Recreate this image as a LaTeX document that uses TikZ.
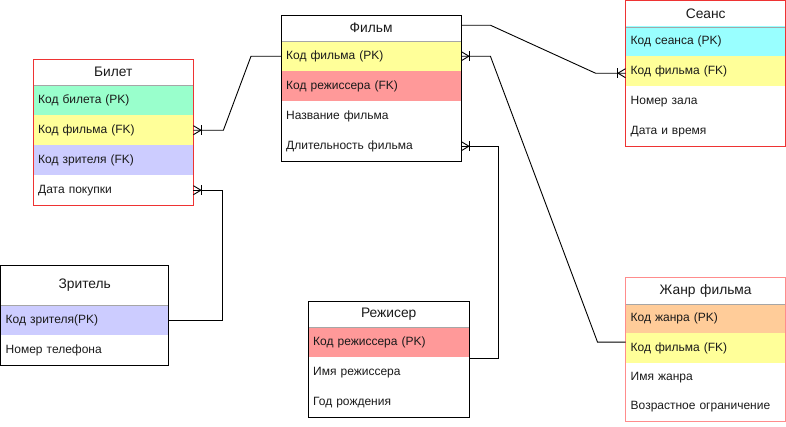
\documentclass[tikz,border=0pt]{standalone}
\usepackage{fontspec}
\setmainfont{Liberation Sans}
\definecolor{pkgreen}{HTML}{99FFCC}
\definecolor{keyyellow}{HTML}{FFFF99}
\definecolor{keylav}{HTML}{CCCCFF}
\definecolor{keysalmon}{HTML}{FF9999}
\definecolor{keycyan}{HTML}{99FFFF}
\definecolor{keyorange}{HTML}{FFCC99}
\definecolor{tabred}{HTML}{EE3333}
\definecolor{tabpink}{HTML}{FF8C8C}
\definecolor{txt}{HTML}{1A1A1A}
\begin{document}
\begin{tikzpicture}[x=1pt,y=-1pt,
  hdr/.style={anchor=north west, inner xsep=5pt, inner ysep=0pt, align=center,
    text=txt, font=\fontsize{13.8}{16}\selectfont},
  row/.style={anchor=north west, minimum height=30pt, inner xsep=5pt, inner ysep=0pt,
    align=left, text=txt, font=\fontsize{12}{14}\selectfont},
  w160/.style={minimum width=160pt, text width=150pt},
  w180/.style={minimum width=180pt, text width=170pt},
  w168/.style={minimum width=168pt, text width=158pt},
  w161/.style={minimum width=161pt, text width=151pt},
  border/.style={draw=black, line width=0.9pt},
  redborder/.style={draw=tabred, line width=0.9pt},
  pinkborder/.style={draw=tabpink, line width=0.9pt},
  sep/.style={draw=black!35, line width=0.6pt},
  conn/.style={draw=black, line width=0.9pt},
  crow/.pic={
    \draw[line width=0.9pt] (0,-4.5) -- (7.5,0) -- (0,4.5);
    \draw[line width=0.9pt] (8.5,-5) -- (8.5,5);
  }]
\useasboundingbox (0,0) rectangle (786,426);

% Билет
\node[hdr, w160, minimum height=26pt] (bh) at (33,59) {Билет};
\node[row, w160, fill=pkgreen] (b1) at (33,85) {Код билета (PK)};
\node[row, w160, fill=keyyellow] (b2) at (33,115) {Код фильма (FK)};
\node[row, w160, fill=keylav] (b3) at (33,145) {Код зрителя (FK)};
\node[row, w160] (b4) at (33,175) {Дата покупки};
\draw[sep] (bh.south west) -- (bh.south east);
\draw[redborder] (bh.north west) rectangle (b4.south east);

% Фильм
\node[hdr, w180, minimum height=26pt] (fh) at (281,15) {Фильм};
\node[row, w180, fill=keyyellow] (f1) at (281,41) {Код фильма (PK)};
\node[row, w180, fill=keysalmon] (f2) at (281,71) {Код режиссера (FK)};
\node[row, w180] (f3) at (281,101) {Название фильма};
\node[row, w180] (f4) at (281,131) {Длительность фильма};
\draw[sep] (fh.south west) -- (fh.south east);
\draw[border] (fh.north west) rectangle (f4.south east);

% Сеанс
\node[hdr, w160, minimum height=26pt] (sh) at (625.5,0.5) {Сеанс};
\node[row, w160, fill=keycyan] (s1) at (625.5,26) {Код сеанса (PK)};
\node[row, w160, fill=keyyellow] (s2) at (625.5,56) {Код фильма (FK)};
\node[row, w160] (s3) at (625.5,86) {Номер зала};
\node[row, w160] (s4) at (625.5,116) {Дата и время};
\draw[sep] (sh.south west) -- (sh.south east);
\draw[redborder] (sh.north west) rectangle (s4.south east);

% Зритель
\node[hdr, w168, minimum height=40pt] (zh) at (0.5,265) {Зритель};
\node[row, w168, fill=keylav] (z1) at (0.5,305) {Код зрителя(PK)};
\node[row, w168] (z2) at (0.5,335) {Номер телефона};
\draw[sep] (zh.south west) -- (zh.south east);
\draw[border] (zh.north west) rectangle (z2.south east);

% Режисер
\node[hdr, w161, minimum height=26pt] (rh) at (308,301) {Режисер};
\node[row, w161, fill=keysalmon] (r1) at (308,327) {Код режиссера (PK)};
\node[row, w161] (r2) at (308,357) {Имя режиссера};
\node[row, w161] (r3) at (308,387) {Год рождения};
\draw[sep] (rh.south west) -- (rh.south east);
\draw[border] (rh.north west) rectangle (r3.south east);

% Жанр фильма
\node[hdr, w160, minimum height=27pt] (gh) at (625.5,277) {Жанр фильма};
\node[row, w160, minimum height=29.25pt, fill=keyorange] (g1) at (625.5,304) {Код жанра (PK)};
\node[row, w160, minimum height=29.25pt, fill=keyyellow] (g2) at (625.5,333.25) {Код фильма (FK)};
\node[row, w160, minimum height=29.25pt] (g3) at (625.5,362.5) {Имя жанра};
\node[row, w160, minimum height=29.25pt] (g4) at (625.5,391.75) {Возрастное ограничение};
\draw[sep] (gh.south west) -- (gh.south east);
\draw[pinkborder] (gh.north west) rectangle (g4.south east);

% Связи
\draw[conn] (b2.east) -- ++(30,0) -- ([xshift=-30pt]f1.west) -- (f1.west);
\draw[conn] ([yshift=3pt]fh.east) -- ++(29,0) -- ([xshift=-30pt,yshift=-2pt]s2.west) -- ([yshift=-2pt]s2.west);
\draw[conn] (f1.east) -- ++(29,0) -- ([xshift=-28pt,yshift=6pt]g2.west) -- ([yshift=6pt]g2.west);
\draw[conn] (f4.east) -- ++(37,0) |- ([yshift=-1pt]r1.south east);
\draw[conn] (b4.east) -- ++(29,0) |- (z1.east);

% Концы «многие»
\pic at (b2.east) {crow};
\pic at (b4.east) {crow};
\pic at (f1.east) {crow};
\pic at (f4.east) {crow};
\pic[xscale=-1] at ([yshift=-2pt]s2.west) {crow};
\end{tikzpicture}
\end{document}
